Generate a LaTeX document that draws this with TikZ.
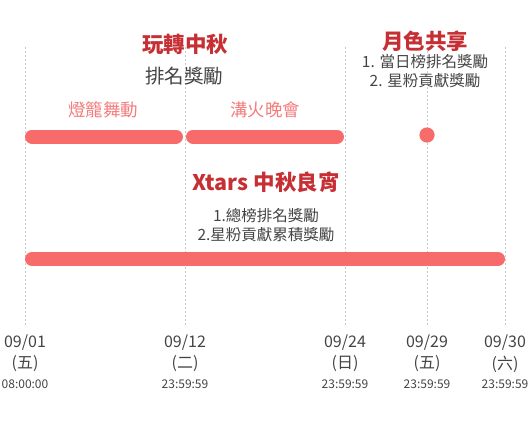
\documentclass[tikz,border=0pt]{standalone}
\usepackage{fontspec}
\setmainfont{Noto Sans CJK TC}
\definecolor{barred}{HTML}{F76B6B}
\definecolor{titlered}{HTML}{C62F34}
\definecolor{labelred}{HTML}{F47C7C}
\definecolor{txtgray}{HTML}{444444}
\definecolor{guide}{HTML}{C8C8C8}
\begin{document}
\begin{tikzpicture}[x=1pt,y=-1pt,
  every node/.style={inner sep=0pt,outer sep=0pt,anchor=center},
  guideline/.style={draw=guide,line width=0.8pt,dash pattern=on 2pt off 2pt},
  bar/.style={draw=barred,line width=14pt,line cap=round},
  title/.style={text=titlered,font=\fontsize{21.5}{25}\selectfont\bfseries},
  subtitle/.style={text=txtgray,font=\fontsize{19.5}{23}\selectfont},
  label/.style={text=labelred,font=\fontsize{17.5}{21}\selectfont},
  desc/.style={text=txtgray,font=\fontsize{15.5}{19}\selectfont},
  datetxt/.style={text=txtgray,font=\fontsize{16}{19}\selectfont},
  timetxt/.style={text=txtgray,font=\fontsize{12}{14}\selectfont}]
\useasboundingbox (0,0) rectangle (530,439);
% guide lines
\foreach \n/\x in {a/25,b/185.5,c/345.5,d/427,e/505.5}{
  \coordinate (g\n t) at (\x,47);
  \coordinate (g\n b) at (\x,326);
  \draw[guideline] (g\n t) -- (g\n b);
}
% bars
\coordinate (b1s) at (32,136.5);
\coordinate (b1e) at (176,136.5);
\coordinate (b2s) at (193,136.5);
\coordinate (b2e) at (337,136.5);
\coordinate (b3s) at (32,259);
\coordinate (b3e) at (498,259);
\draw[bar] (b1s) -- (b1e);
\draw[bar] (b2s) -- (b2e);
\draw[bar] (b3s) -- (b3e);
\fill[barred] (427,135) circle (7.6);
% texts
\node[title] (t1) at (185,44) {玩轉中秋};
\node[subtitle] (t1s) at (184,76) {排名獎勵};
\node[label] (l1) at (103,110) {燈籠舞動};
\node[label] (l2) at (265,110) {溝火晚會};
\node[title] (t2) at (425,41) {月色共享};
\node[desc] (t2a) at (425,62) {1. 當日榜排名獎勵};
\node[desc] (t2b) at (425,81) {2. 星粉貢獻獎勵};
\node[title] (t3) at (266,182) {Xtars 中秋良宵};
\node[desc] (t3a) at (266,216) {1.總榜排名獎勵};
\node[desc] (t3b) at (266,235) {2.星粉貢獻累積獎勵};
% dates
\foreach \n/\x/\d/\w/\t in {a/25/09\slash01/五/08:00:00,b/185/09\slash12/二/23:59:59,c/345/09\slash24/日/23:59:59,d/427/09\slash29/五/23:59:59,e/505/09\slash30/六/23:59:59}{
  \node[datetxt] (d\n) at (\x,343) {\d};
  \node[datetxt] (w\n) at (\x,364) {(\w)};
  \node[timetxt] (h\n) at (\x,384) {\t};
}
\end{tikzpicture}
\end{document}
